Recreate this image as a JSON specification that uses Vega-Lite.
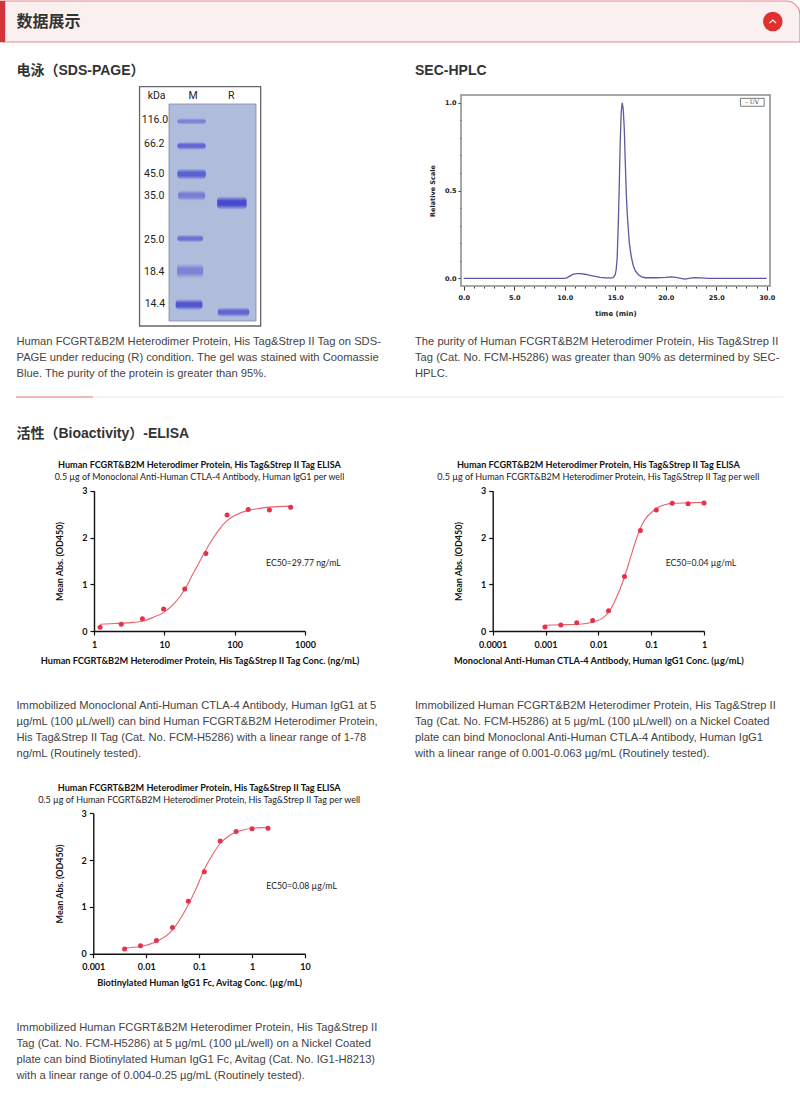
{"$schema":"https://vega.github.io/schema/vega-lite/v6.json","width":800,"height":1101,"autosize":"none","padding":0,"background":"white","config":{"view":{"stroke":null},"text":{"font":"Liberation Sans"}},"resolve":{"scale":{"x":"independent","y":"independent","opacity":"independent"},"axis":{"x":"independent","y":"independent"}},"layer":[
{"data":{"values":[{"x0":0,"x1":100,"y0":0,"y1":100}]},"mark":{"type":"rect","fill":"#fbf0f0","stroke":"#e4898f","strokeWidth":1.2,"cornerRadiusTopRight":14},"encoding":{"x":{"field":"x0","type":"quantitative","axis":null,"scale":{"domain":[0,100],"range":[0,800]}},"x2":{"field":"x1"},"y":{"field":"y0","type":"quantitative","axis":null,"scale":{"domain":[0,100],"range":[1,42]}},"y2":{"field":"y1"}}},
{"data":{"values":[{"x0":0,"x1":0.65,"y0":0,"y1":100}]},"mark":{"type":"rect","fill":"#d5333b"},"encoding":{"x":{"field":"x0","type":"quantitative","axis":null,"scale":{"domain":[0,100],"range":[0,800]}},"x2":{"field":"x1"},"y":{"field":"y0","type":"quantitative","axis":null,"scale":{"domain":[0,100],"range":[1,42]}},"y2":{"field":"y1"}}},
{"data":{"values":[{"x":96.6,"y":50}]},"encoding":{"x":{"field":"x","type":"quantitative","axis":null,"scale":{"domain":[0,100],"range":[0,800]}},"y":{"field":"y","type":"quantitative","axis":null,"scale":{"domain":[0,100],"range":[1,42]}}},"layer":[{"mark":{"type":"point","filled":true,"fill":"#e1302f","size":380,"opacity":1,"stroke":null}},{"mark":{"type":"point","shape":"M-1,0.5L0,-0.4L1,0.5","filled":false,"stroke":"#ffffff","strokeWidth":1.2,"size":45,"opacity":1}}]},
{"data":{"values":[{"text":"数据展示","col":"left"}]},"mark":{"type":"text","align":"left","baseline":"middle","font":"Noto Sans CJK SC","fontWeight":"bold","fontSize":16,"color":"#333333"},"encoding":{"text":{"field":"text"},"x":{"field":"col","type":"nominal","axis":null,"scale":{"type":"point","padding":0,"domain":["left","right"],"range":[16.5,415]}},"y":{"datum":1,"type":"quantitative","axis":null,"scale":{"domain":[0,2],"range":[0,43]}}}},
{"data":{"values":[{"text":"电泳（SDS-PAGE）","col":"left"},{"text":"SEC-HPLC","col":"right"}]},"mark":{"type":"text","align":"left","baseline":"middle","font":"Liberation Sans, Noto Sans CJK SC","fontWeight":"bold","fontSize":14,"color":"#333333"},"encoding":{"text":{"field":"text"},"x":{"field":"col","type":"nominal","axis":null,"scale":{"type":"point","padding":0,"domain":["left","right"],"range":[16.5,415]}},"y":{"datum":1,"type":"quantitative","axis":null,"scale":{"domain":[0,2],"range":[51,91]}}}},
{"data":{"values":[{"text":"活性（Bioactivity）-ELISA","col":"left"}]},"mark":{"type":"text","align":"left","baseline":"middle","font":"Liberation Sans, Noto Sans CJK SC","fontWeight":"bold","fontSize":14,"color":"#333333"},"encoding":{"text":{"field":"text"},"x":{"field":"col","type":"nominal","axis":null,"scale":{"type":"point","padding":0,"domain":["left","right"],"range":[16.5,415]}},"y":{"datum":1,"type":"quantitative","axis":null,"scale":{"domain":[0,2],"range":[414,454]}}}},
{"data":{"values":[{"col":"left","line":1,"text":"Human FCGRT&B2M Heterodimer Protein, His Tag&Strep II Tag on SDS-"},{"col":"left","line":2,"text":"PAGE under reducing (R) condition. The gel was stained with Coomassie"},{"col":"left","line":3,"text":"Blue. The purity of the protein is greater than 95%."},{"col":"right","line":1,"text":"The purity of Human FCGRT&B2M Heterodimer Protein, His Tag&Strep II"},{"col":"right","line":2,"text":"Tag (Cat. No. FCM-H5286) was greater than 90% as determined by SEC-"},{"col":"right","line":3,"text":"HPLC."}]},"mark":{"type":"text","align":"left","baseline":"middle","fontSize":11.2,"color":"#444444"},"encoding":{"text":{"field":"text"},"x":{"field":"col","type":"nominal","axis":null,"scale":{"type":"point","padding":0,"domain":["left","right"],"range":[16.5,415]}},"y":{"field":"line","type":"quantitative","axis":null,"scale":{"domain":[1,3],"range":[341.6,373.6]}}}},
{"data":{"values":[{"col":"left","line":1,"text":"Immobilized Monoclonal Anti-Human CTLA-4 Antibody, Human IgG1 at 5"},{"col":"left","line":2,"text":"µg/mL (100 µL/well) can bind Human FCGRT&B2M Heterodimer Protein,"},{"col":"left","line":3,"text":"His Tag&Strep II Tag (Cat. No. FCM-H5286) with a linear range of 1-78"},{"col":"left","line":4,"text":"ng/mL (Routinely tested)."},{"col":"right","line":1,"text":"Immobilized Human FCGRT&B2M Heterodimer Protein, His Tag&Strep II"},{"col":"right","line":2,"text":"Tag (Cat. No. FCM-H5286) at 5 µg/mL (100 µL/well) on a Nickel Coated"},{"col":"right","line":3,"text":"plate can bind Monoclonal Anti-Human CTLA-4 Antibody, Human IgG1"},{"col":"right","line":4,"text":"with a linear range of 0.001-0.063 µg/mL (Routinely tested)."}]},"mark":{"type":"text","align":"left","baseline":"middle","fontSize":11.2,"color":"#444444"},"encoding":{"text":{"field":"text"},"x":{"field":"col","type":"nominal","axis":null,"scale":{"type":"point","padding":0,"domain":["left","right"],"range":[16.5,415]}},"y":{"field":"line","type":"quantitative","axis":null,"scale":{"domain":[1,4],"range":[705.6,753.6]}}}},
{"data":{"values":[{"col":"left","line":1,"text":"Immobilized Human FCGRT&B2M Heterodimer Protein, His Tag&Strep II"},{"col":"left","line":2,"text":"Tag (Cat. No. FCM-H5286) at 5 µg/mL (100 µL/well) on a Nickel Coated"},{"col":"left","line":3,"text":"plate can bind Biotinylated Human IgG1 Fc, Avitag (Cat. No. IG1-H8213)"},{"col":"left","line":4,"text":"with a linear range of 0.004-0.25 µg/mL (Routinely tested)."}]},"mark":{"type":"text","align":"left","baseline":"middle","fontSize":11.2,"color":"#444444"},"encoding":{"text":{"field":"text"},"x":{"field":"col","type":"nominal","axis":null,"scale":{"type":"point","padding":0,"domain":["left","right"],"range":[16.5,415]}},"y":{"field":"line","type":"quantitative","axis":null,"scale":{"domain":[1,4],"range":[1027.6,1075.6]}}}},
{"data":{"values":[{"x0":2,"x1":97.9,"c":"rest"}]},"mark":{"type":"rule","color":"#e8e8e8","strokeWidth":1},"encoding":{"x":{"field":"x0","type":"quantitative","axis":null,"scale":{"domain":[0,100],"range":[0,800]}},"x2":{"field":"x1"},"y":{"datum":1,"type":"quantitative","axis":null,"scale":{"domain":[0,2],"range":[387,407]}}}},
{"data":{"values":[{"x0":2,"x1":11.6,"c":"accent"}]},"mark":{"type":"rule","color":"#ec7c80","strokeWidth":1},"encoding":{"x":{"field":"x0","type":"quantitative","axis":null,"scale":{"domain":[0,100],"range":[0,800]}},"x2":{"field":"x1"},"y":{"datum":1,"type":"quantitative","axis":null,"scale":{"domain":[0,2],"range":[387,407]}}}},
{"encoding":{"x":{"field":"x0","type":"quantitative","axis":null,"scale":{"domain":[118,378],"range":[169,256]}},"y":{"field":"y0","type":"quantitative","axis":null,"scale":{"domain":[72,722],"range":[104,321]}}},"layer":[
{"data":{"values":[{"x0":30,"x1":392,"y0":20,"y1":737}]},"mark":{"type":"rect","fill":"#ffffff","stroke":"#666666","strokeWidth":1.3},"encoding":{"x2":{"field":"x1"},"y2":{"field":"y1"}}},
{"data":{"values":[{"x0":118,"x1":378,"y0":72,"y1":722}]},"mark":{"type":"rect","fill":"#afbcdc","stroke":"#7f8a9c","strokeWidth":0.8},"encoding":{"x2":{"field":"x1"},"y2":{"field":"y1"}}},
{"data":{"values":[{"lane":"M","kDa":"116.0","x0":143,"x1":228,"y0":114,"y1":134,"stain":0.5},{"lane":"M","kDa":"66.2","x0":143,"x1":228,"y0":185,"y1":210,"stain":0.75},{"lane":"M","kDa":"45.0","x0":143,"x1":228,"y0":265,"y1":299,"stain":0.8},{"lane":"M","kDa":"35.0","x0":145,"x1":226,"y0":330,"y1":362,"stain":0.55},{"lane":"M","kDa":"25.0","x0":143,"x1":220,"y0":463,"y1":487,"stain":0.65},{"lane":"M","kDa":"18.4","x0":142,"x1":220,"y0":550,"y1":594,"stain":0.5},{"lane":"M","kDa":"14.4","x0":138,"x1":218,"y0":656,"y1":690,"stain":0.9},{"lane":"R","kDa":"33","x0":262,"x1":350,"y0":348,"y1":389,"stain":1},{"lane":"R","kDa":"13","x0":264,"x1":358,"y0":681,"y1":710,"stain":0.75}]},"mark":{"type":"rect","cornerRadius":4,"fill":{"gradient":"linear","x1":0,"y1":0,"x2":0,"y2":1,"stops":[{"offset":0,"color":"rgba(60,62,205,0)"},{"offset":0.35,"color":"rgba(60,62,205,0.9)"},{"offset":0.65,"color":"rgba(60,62,205,0.9)"},{"offset":1,"color":"rgba(60,62,205,0)"}]}},"encoding":{"x2":{"field":"x1"},"y2":{"field":"y1"},"opacity":{"field":"stain","type":"quantitative","legend":null,"scale":{"domain":[0,1],"range":[0,1]}}}},
{"data":{"values":[{"text":"kDa","x0":81,"y0":48},{"text":"M","x0":190,"y0":48},{"text":"R","x0":304,"y0":48},{"text":"116.0","x0":76,"y0":120},{"text":"66.2","x0":74,"y0":193},{"text":"45.0","x0":74,"y0":282},{"text":"35.0","x0":74,"y0":348},{"text":"25.0","x0":74,"y0":480},{"text":"18.4","x0":74,"y0":576},{"text":"14.4","x0":76,"y0":671}]},"mark":{"type":"text","baseline":"middle","align":"center","font":"Roboto","fontSize":10.5,"color":"#222222"},"encoding":{"text":{"field":"text"}}}
]},
{"encoding":{"x":{"field":"x","type":"quantitative","title":"time (min)","scale":{"domain":[-0.27,30.33],"range":[461,770],"nice":false,"zero":false},"axis":{"orient":"bottom","offset":-815,"values":[0,1,2,3,4,5,6,7,8,9,10,11,12,13,14,15,16,17,18,19,20,21,22,23,24,25,26,27,28,29,30],"labelExpr":"datum.value % 5 === 0 ? format(datum.value,'.1f') : ''","labelFont":"DejaVu Sans","labelFontWeight":"bold","labelFontSize":6.5,"labelColor":"#222222","labelPadding":4,"labelOverlap":false,"domain":false,"grid":false,"tickColor":"#333333","tickSize":{"condition":{"test":"datum.value % 5 === 0","value":4},"value":2},"titleFont":"DejaVu Sans","titleFontWeight":"bold","titleFontSize":7,"titleColor":"#222222","titlePadding":9}},"y":{"field":"y","type":"quantitative","title":"Relative Scale","scale":{"domain":[-0.044,1.044],"range":[286,95],"nice":false,"zero":false},"axis":{"orient":"left","offset":-461,"values":[0,0.1,0.2,0.3,0.4,0.5,0.6,0.7,0.8,0.9,1],"labelExpr":"datum.value === 0 || datum.value === 0.5 || datum.value === 1 ? format(datum.value,'.1f') : ''","labelFont":"DejaVu Sans","labelFontWeight":"bold","labelFontSize":6.5,"labelColor":"#222222","labelPadding":2,"labelOverlap":false,"domain":false,"grid":false,"tickColor":"#333333","tickSize":{"condition":{"test":"datum.value === 0 || datum.value === 0.5 || datum.value === 1","value":3},"value":1.5},"titleFont":"DejaVu Sans","titleFontWeight":"bold","titleFontSize":6.5,"titleColor":"#222222","titlePadding":9}}},"layer":[
{"data":{"values":[{"x":-0.27,"x1":30.33,"y":-0.044,"y1":1.044}]},"mark":{"type":"rect","fill":"transparent","stroke":"#8a8a8a","strokeWidth":1.5},"encoding":{"x2":{"field":"x1"},"y2":{"field":"y1"}}},
{"data":{"values":[{"x":0,"y":0},{"x":10,"y":0},{"x":10.2,"y":0.002},{"x":10.5,"y":0.012},{"x":10.8,"y":0.022},{"x":11.2,"y":0.027},{"x":11.6,"y":0.027},{"x":12,"y":0.023},{"x":12.5,"y":0.017},{"x":13,"y":0.011},{"x":13.5,"y":0.005},{"x":14,"y":0.002},{"x":14.5,"y":0.002},{"x":14.8,"y":0.004},{"x":15,"y":0.02},{"x":15.1,"y":0.05},{"x":15.2,"y":0.12},{"x":15.3,"y":0.3},{"x":15.4,"y":0.52},{"x":15.5,"y":0.78},{"x":15.6,"y":0.95},{"x":15.7,"y":1},{"x":15.8,"y":0.96},{"x":15.9,"y":0.85},{"x":16,"y":0.66},{"x":16.1,"y":0.48},{"x":16.2,"y":0.36},{"x":16.4,"y":0.2},{"x":16.6,"y":0.12},{"x":16.8,"y":0.07},{"x":17,"y":0.042},{"x":17.3,"y":0.02},{"x":17.6,"y":0.008},{"x":18,"y":0.003},{"x":19,"y":0.003},{"x":20,"y":0.005},{"x":20.6,"y":0.008},{"x":21,"y":0.005},{"x":21.5,"y":0},{"x":21.9,"y":-0.005},{"x":22.3,"y":0},{"x":22.8,"y":0.004},{"x":23.5,"y":0.002},{"x":24.2,"y":-0.001},{"x":30,"y":0}]},"mark":{"type":"line","color":"#5a5a9f","strokeWidth":1.3}},
{"data":{"values":[{"x":27.4,"x1":29.75,"y":0.98,"y1":1.025}]},"mark":{"type":"rect","fill":"#ffffff","stroke":"#555555","strokeWidth":0.8},"encoding":{"x2":{"field":"x1"},"y2":{"field":"y1"}}},
{"data":{"values":[{"x":28.55,"y":1.002,"text":"– UV"}]},"mark":{"type":"text","font":"DejaVu Serif","fontSize":6,"align":"center","baseline":"middle","color":"#333333"},"encoding":{"text":{"field":"text"}}}
]},
{"encoding":{"x":{"field":"x","type":"quantitative","title":"Human FCGRT&B2M Heterodimer Protein, His Tag&Strep II Tag Conc. (ng/mL)","scale":{"type":"log","domain":[1,1000],"range":[94,305],"nice":false},"axis":{"orient":"bottom","offset":-470,"values":[1,10,100,1000],"format":"~g","labelFont":"Lato","labelFontWeight":"bold","labelFontSize":9,"labelColor":"#111111","labelPadding":5,"labelFlush":false,"domainColor":"#111111","domainWidth":1.4,"tickColor":"#111111","tickWidth":1.2,"tickSize":4,"grid":false,"titleFont":"Lato","titleFontWeight":"bold","titleFontSize":9.2,"titleColor":"#111111","titlePadding":7}},"y":{"field":"y","type":"quantitative","title":"Mean Abs. (OD450)","scale":{"domain":[0,3],"range":[631.3,490.7],"nice":false},"axis":{"orient":"left","offset":-94,"values":[0,1,2,3],"format":"d","labelFont":"Lato","labelFontWeight":"bold","labelFontSize":9,"labelColor":"#111111","labelPadding":3,"domainColor":"#111111","domainWidth":1.4,"tickColor":"#111111","tickWidth":1.2,"tickSize":4,"grid":false,"titleFont":"Lato","titleFontWeight":"bold","titleFontSize":9,"titleColor":"#111111","titlePadding":17}}},"layer":[
{"data":{"values":[{"x":1.22,"y":0.15},{"x":2,"y":0.165},{"x":3,"y":0.18},{"x":5,"y":0.22},{"x":7,"y":0.3},{"x":10,"y":0.41},{"x":14,"y":0.6},{"x":20,"y":0.92},{"x":25,"y":1.2},{"x":30,"y":1.42},{"x":40,"y":1.76},{"x":50,"y":2.0},{"x":60,"y":2.17},{"x":78,"y":2.36},{"x":100,"y":2.47},{"x":156,"y":2.58},{"x":200,"y":2.61},{"x":312,"y":2.65},{"x":625,"y":2.67}]},"mark":{"type":"line","color":"#e8626e","strokeWidth":1.1,"interpolate":"monotone"}},
{"data":{"values":[{"x":1.22,"y":0.085},{"x":2.44,"y":0.15},{"x":4.88,"y":0.27},{"x":9.77,"y":0.476},{"x":19.5,"y":0.9},{"x":39,"y":1.66},{"x":78,"y":2.48},{"x":156,"y":2.6},{"x":312,"y":2.59},{"x":625,"y":2.645}]},"mark":{"type":"point","filled":true,"color":"#e5314b","size":25,"opacity":1}},
{"data":{"values":[{"x":31.6,"y":3.55,"text":"Human FCGRT&B2M Heterodimer Protein, His Tag&Strep II Tag ELISA"}]},"mark":{"type":"text","font":"Lato","fontWeight":"bold","fontSize":9.1,"align":"center","baseline":"middle","color":"#111111"},"encoding":{"text":{"field":"text"}}},
{"data":{"values":[{"x":31.6,"y":3.29,"text":"0.5 µg of Monoclonal Anti-Human CTLA-4 Antibody, Human IgG1 per well"}]},"mark":{"type":"text","font":"Lato","fontSize":8.9,"align":"center","baseline":"middle","color":"#222222"},"encoding":{"text":{"field":"text"}}},
{"data":{"values":[{"x":279,"y":1.46,"text":"EC50=29.77 ng/mL"}]},"mark":{"type":"text","font":"Lato","fontSize":8.7,"align":"left","baseline":"middle","color":"#222222"},"encoding":{"text":{"field":"text"}}}
]},
{"encoding":{"x":{"field":"x","type":"quantitative","title":"Monoclonal Anti-Human CTLA-4 Antibody, Human IgG1 Conc. (µg/mL)","scale":{"type":"log","domain":[0.0001,1],"range":[492.7,704],"nice":false},"axis":{"orient":"bottom","offset":-470,"values":[0.0001,0.001,0.01,0.1,1],"format":"~g","labelFont":"Lato","labelFontWeight":"bold","labelFontSize":9,"labelColor":"#111111","labelPadding":5,"labelFlush":false,"domainColor":"#111111","domainWidth":1.4,"tickColor":"#111111","tickWidth":1.2,"tickSize":4,"grid":false,"titleFont":"Lato","titleFontWeight":"bold","titleFontSize":9.2,"titleColor":"#111111","titlePadding":7}},"y":{"field":"y","type":"quantitative","title":"Mean Abs. (OD450)","scale":{"domain":[0,3],"range":[631.3,490.7],"nice":false},"axis":{"orient":"left","offset":-492.7,"values":[0,1,2,3],"format":"d","labelFont":"Lato","labelFontWeight":"bold","labelFontSize":9,"labelColor":"#111111","labelPadding":3,"domainColor":"#111111","domainWidth":1.4,"tickColor":"#111111","tickWidth":1.2,"tickSize":4,"grid":false,"titleFont":"Lato","titleFontWeight":"bold","titleFontSize":9,"titleColor":"#111111","titlePadding":17}}},"layer":[
{"data":{"values":[{"x":0.001,"y":0.13},{"x":0.002,"y":0.14},{"x":0.004,"y":0.15},{"x":0.008,"y":0.2},{"x":0.012,"y":0.28},{"x":0.016,"y":0.42},{"x":0.022,"y":0.72},{"x":0.03,"y":1.1},{"x":0.04,"y":1.55},{"x":0.05,"y":1.9},{"x":0.0625,"y":2.2},{"x":0.08,"y":2.42},{"x":0.1,"y":2.53},{"x":0.125,"y":2.62},{"x":0.18,"y":2.7},{"x":0.25,"y":2.73},{"x":0.5,"y":2.74},{"x":1,"y":2.75}]},"mark":{"type":"line","color":"#e8626e","strokeWidth":1.1,"interpolate":"monotone"}},
{"data":{"values":[{"x":0.000977,"y":0.092},{"x":0.00195,"y":0.135},{"x":0.0039,"y":0.185},{"x":0.0078,"y":0.23},{"x":0.0156,"y":0.44},{"x":0.03125,"y":1.17},{"x":0.0625,"y":2.15},{"x":0.125,"y":2.59},{"x":0.25,"y":2.73},{"x":0.5,"y":2.72},{"x":1,"y":2.74}]},"mark":{"type":"point","filled":true,"color":"#e5314b","size":25,"opacity":1}},
{"data":{"values":[{"x":0.01,"y":3.55,"text":"Human FCGRT&B2M Heterodimer Protein, His Tag&Strep II Tag ELISA"}]},"mark":{"type":"text","font":"Lato","fontWeight":"bold","fontSize":9.1,"align":"center","baseline":"middle","color":"#111111"},"encoding":{"text":{"field":"text"}}},
{"data":{"values":[{"x":0.01,"y":3.29,"text":"0.5 µg of Human FCGRT&B2M Heterodimer Protein, His Tag&Strep II Tag per well"}]},"mark":{"type":"text","font":"Lato","fontSize":9,"align":"center","baseline":"middle","color":"#222222"},"encoding":{"text":{"field":"text"}}},
{"data":{"values":[{"x":0.188,"y":1.46,"text":"EC50=0.04 µg/mL"}]},"mark":{"type":"text","font":"Lato","fontSize":8.7,"align":"left","baseline":"middle","color":"#222222"},"encoding":{"text":{"field":"text"}}}
]},
{"encoding":{"x":{"field":"x","type":"quantitative","title":"Biotinylated Human IgG1 Fc, Avitag Conc. (µg/mL)","scale":{"type":"log","domain":[0.001,10],"range":[93.3,305],"nice":false},"axis":{"orient":"bottom","offset":-147.3,"values":[0.001,0.01,0.1,1,10],"format":"~g","labelFont":"Lato","labelFontWeight":"bold","labelFontSize":9,"labelColor":"#111111","labelPadding":5,"labelFlush":false,"domainColor":"#111111","domainWidth":1.4,"tickColor":"#111111","tickWidth":1.2,"tickSize":4,"grid":false,"titleFont":"Lato","titleFontWeight":"bold","titleFontSize":9.2,"titleColor":"#111111","titlePadding":7}},"y":{"field":"y","type":"quantitative","title":"Mean Abs. (OD450)","scale":{"domain":[0,3],"range":[953.7,813.3],"nice":false},"axis":{"orient":"left","offset":-93.3,"values":[0,1,2,3],"format":"d","labelFont":"Lato","labelFontWeight":"bold","labelFontSize":9,"labelColor":"#111111","labelPadding":3,"domainColor":"#111111","domainWidth":1.4,"tickColor":"#111111","tickWidth":1.2,"tickSize":4,"grid":false,"titleFont":"Lato","titleFontWeight":"bold","titleFontSize":9,"titleColor":"#111111","titlePadding":17}}},"layer":[
{"data":{"values":[{"x":0.0039,"y":0.125},{"x":0.0078,"y":0.155},{"x":0.0156,"y":0.26},{"x":0.03,"y":0.48},{"x":0.05,"y":0.85},{"x":0.0625,"y":1.05},{"x":0.09,"y":1.42},{"x":0.125,"y":1.8},{"x":0.18,"y":2.12},{"x":0.25,"y":2.36},{"x":0.35,"y":2.5},{"x":0.5,"y":2.6},{"x":0.7,"y":2.65},{"x":1,"y":2.68},{"x":2,"y":2.7}]},"mark":{"type":"line","color":"#e8626e","strokeWidth":1.1,"interpolate":"monotone"}},
{"data":{"values":[{"x":0.0039,"y":0.1},{"x":0.0078,"y":0.17},{"x":0.0156,"y":0.28},{"x":0.03125,"y":0.56},{"x":0.0625,"y":1.12},{"x":0.125,"y":1.75},{"x":0.25,"y":2.41},{"x":0.5,"y":2.61},{"x":1,"y":2.67},{"x":2,"y":2.68}]},"mark":{"type":"point","filled":true,"color":"#e5314b","size":25,"opacity":1}},
{"data":{"values":[{"x":0.1,"y":3.55,"text":"Human FCGRT&B2M Heterodimer Protein, His Tag&Strep II Tag ELISA"}]},"mark":{"type":"text","font":"Lato","fontWeight":"bold","fontSize":9.1,"align":"center","baseline":"middle","color":"#111111"},"encoding":{"text":{"field":"text"}}},
{"data":{"values":[{"x":0.1,"y":3.29,"text":"0.5 µg of Human FCGRT&B2M Heterodimer Protein, His Tag&Strep II Tag per well"}]},"mark":{"type":"text","font":"Lato","fontSize":9,"align":"center","baseline":"middle","color":"#222222"},"encoding":{"text":{"field":"text"}}},
{"data":{"values":[{"x":1.86,"y":1.454,"text":"EC50=0.08 µg/mL"}]},"mark":{"type":"text","font":"Lato","fontSize":8.7,"align":"left","baseline":"middle","color":"#222222"},"encoding":{"text":{"field":"text"}}}
]}
]}
